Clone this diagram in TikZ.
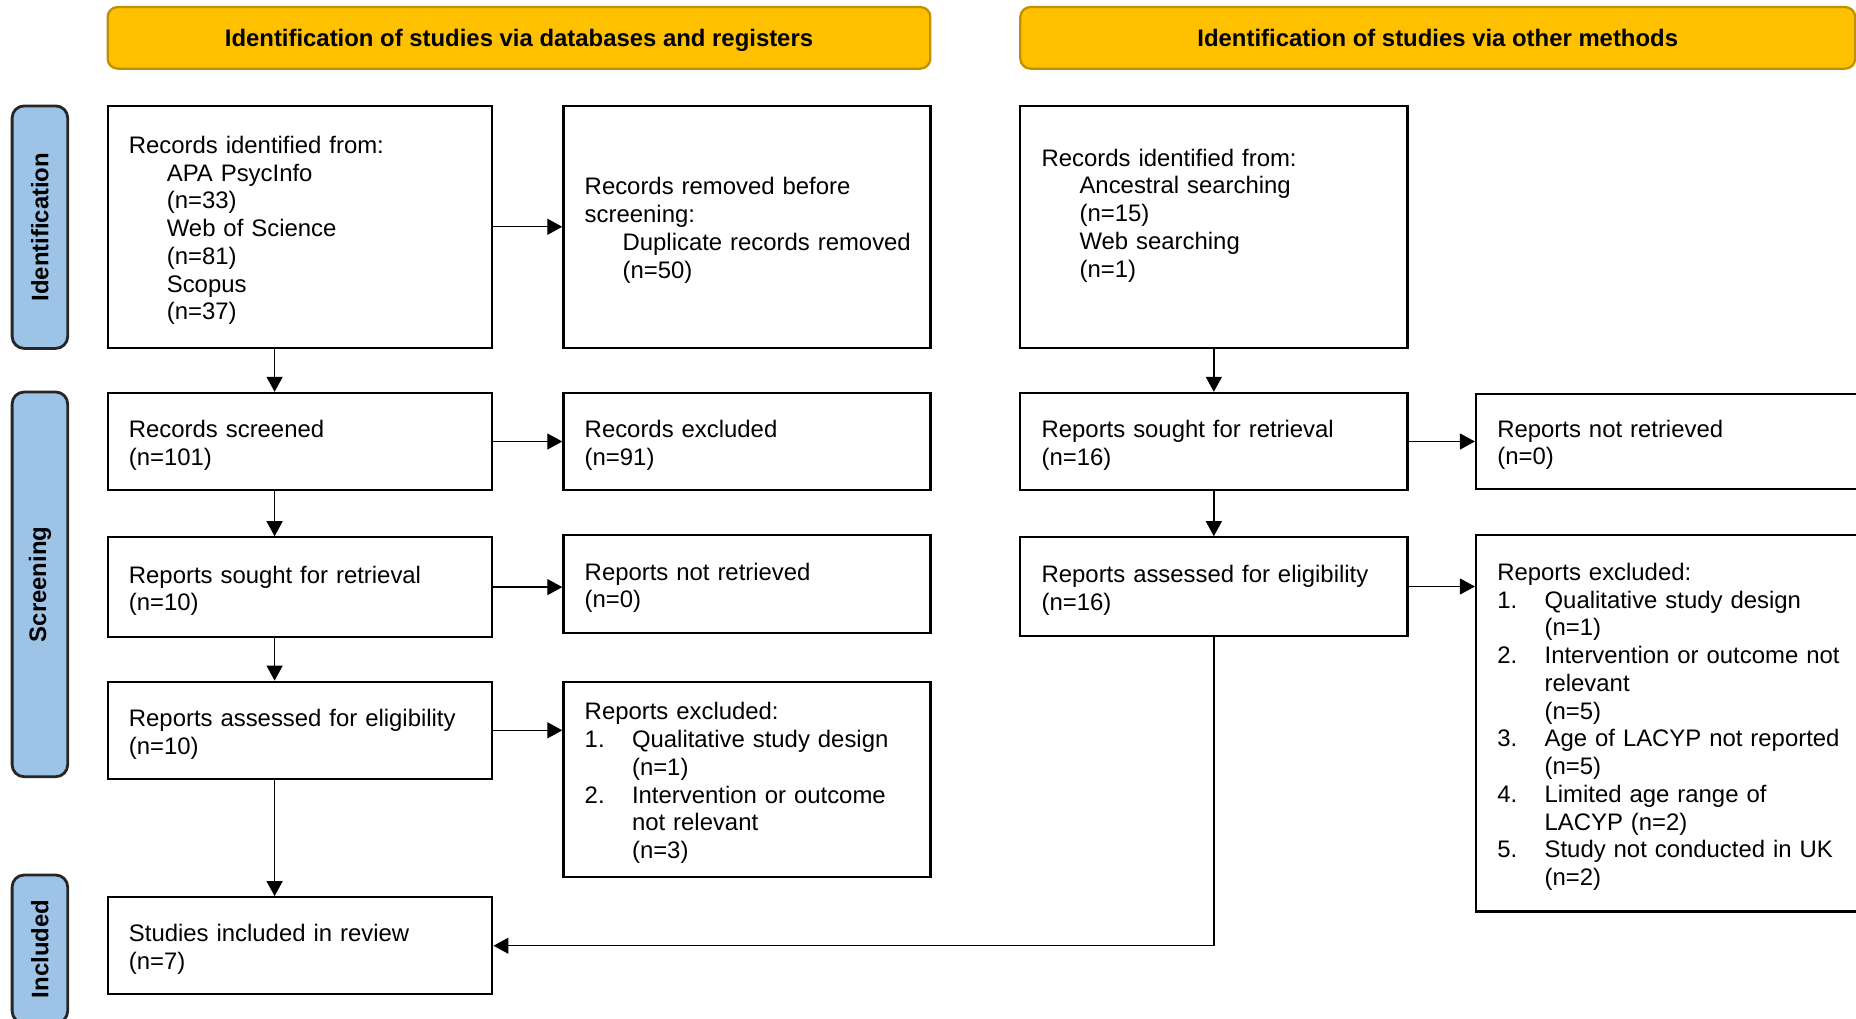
\documentclass[tikz,border=0pt]{standalone}
\usepackage{fontspec}
\setmainfont{Liberation Sans}
\usetikzlibrary{arrows.meta}
\newlength{\unitpx}
\setlength{\unitpx}{0.02cm}
\newcommand{\subind}{\hspace*{37.9\unitpx}}
\newcommand{\numind}{\hspace*{47.3\unitpx}}
\newcommand{\numitem}[1]{\makebox[47.3\unitpx][l]{#1}}
\definecolor{headfill}{HTML}{FFC000}
\definecolor{headline}{HTML}{BF9000}
\definecolor{sidefill}{HTML}{9DC3E6}
\definecolor{sideline}{HTML}{262626}

\begin{document}
\begin{tikzpicture}[x=0.02cm, y=-0.02cm,
    font=\fontsize{13.6}{15.8}\selectfont,
    box/.style = {draw, line width=1.3pt, anchor=north west, align=left, inner xsep=21.3\unitpx, inner ysep=0pt, execute at begin node=\rule{0pt}{14pt}},
    lcol/.style = {box, text width=342.1\unitpx},
    mcol/.style = {box, text width=324.4\unitpx},
    rcol/.style = {box, text width=344.4\unitpx},
    fcol/.style = {box, text width=362.4\unitpx},
    head/.style = {draw=headline, fill=headfill, line width=1.3pt, rounded corners=10\unitpx, anchor=north west, minimum height=61.6\unitpx, inner sep=0pt, text height=9.8pt, text depth=0.4pt, font=\fontsize{13.6}{15.8}\selectfont\bfseries},
    side/.style = {draw=sideline, fill=sidefill, line width=1.6pt, rounded corners=12\unitpx, anchor=north west, minimum width=55.6\unitpx, inner sep=0pt, font=\fontsize{13.6}{15.8}\selectfont\bfseries},
    arr/.style = {-{Triangle[length=0.3cm, width=0.32cm]}, line width=0.75pt}]
    \useasboundingbox (0,0) rectangle (1856,1018);
    \clip (0,0) rectangle (1856,1018);

    % headers
    \node[head, minimum width=822.7\unitpx] (hdb) at (106.5,5.9) {Identification of studies via databases and registers};
    \node[head, minimum width=834.8\unitpx] (hoth) at (1019.2,5.9) {Identification of studies via other methods};

    % phases
    \node[side, minimum height=242.5\unitpx] (sideid) at (10.7,104.5) {\rotatebox{90}{Identification}};
    \node[side, minimum height=384.7\unitpx] (sidescr) at (10.7,390.6) {\rotatebox{90}{Screening}};
    \node[side, minimum height=148\unitpx] (sideinc) at (10.7,873.6) {\rotatebox{90}{Included}};

    % databases and registers
    \node[lcol, minimum height=242.3\unitpx] (recid) at (106.5,104.5) {Records identified from:\\ \subind APA PsycInfo\\ \subind (n=33)\\ \subind Web of Science\\ \subind (n=81)\\ \subind Scopus\\ \subind (n=37)};
    \node[mcol, minimum height=242.3\unitpx] (recrem) at (562.3,104.5) {Records removed before\\ screening:\\ \subind\mbox{Duplicate records removed}\\ \subind (n=50)};
    \node[lcol, minimum height=97.1\unitpx] (recscr) at (106.5,391.8) {Records screened\\ (n=101)};
    \node[mcol, minimum height=97.1\unitpx] (recexc) at (562.3,391.8) {Records excluded\\ (n=91)};
    \node[lcol, minimum height=99.5\unitpx] (repsou) at (106.5,536.2) {Reports sought for retrieval\\ (n=10)};
    \node[mcol, minimum height=98.3\unitpx] (repnot) at (562.3,533.8) {Reports not retrieved\\ (n=0)};
    \node[lcol, minimum height=97.1\unitpx] (repass) at (106.5,680.6) {Reports assessed for eligibility\\ (n=10)};
    \node[mcol, minimum height=195.3\unitpx] (repexc) at (562.3,680.6) {Reports excluded:\\ \numitem{1.}Qualitative study design\\ \numind (n=1)\\ \numitem{2.}Intervention or outcome\\ \numind not relevant\\ \numind (n=3)};
    \node[lcol, minimum height=97\unitpx] (incl) at (106.5,896.1) {Studies included in review\\ (n=7)};

    % other methods
    \node[rcol, minimum height=242.3\unitpx] (othid) at (1019.2,104.5) {Records identified from:\\ \subind Ancestral searching\\ \subind (n=15)\\ \subind Web searching\\ \subind (n=1)\\ \rule[-4pt]{0pt}{4pt}};
    \node[rcol, minimum height=97.1\unitpx] (othsou) at (1019.2,391.8) {Reports sought for retrieval\\ (n=16)};
    \node[fcol, minimum height=95\unitpx] (othnot) at (1474.9,392.5) {Reports not retrieved\\ (n=0)};
    \node[rcol, minimum height=98.3\unitpx] (othass) at (1019.2,536.2) {Reports assessed for eligibility\\ (n=16)};
    \node[fcol, minimum height=376.5\unitpx] (othexc) at (1474.9,533.8) {Reports excluded:\\ \numitem{1.}Qualitative study design\\ \numind (n=1)\\ \numitem{2.}Intervention or outcome not\\ \numind relevant\\ \numind (n=5)\\ \numitem{3.}Age of LACYP not reported\\ \numind (n=5)\\ \numitem{4.}Limited age range of\\ \numind LACYP (n=2)\\ \numitem{5.}Study not conducted in UK\\ \numind (n=2)};

    % connectors
    \coordinate (spine) at (274.6,0);
    \draw[arr] (recid) -- (recrem);
    \draw[arr] (recid.south -| spine) -- (recscr.north -| spine);
    \draw[arr] (recscr) -- (recexc);
    \draw[arr] (recscr.south -| spine) -- (repsou.north -| spine);
    \draw[arr] (repsou.east) -- (repsou.east -| repnot.west);
    \draw[arr] (repsou.south -| spine) -- (repass.north -| spine);
    \draw[arr] (repass.east) -- (repass.east -| repexc.west);
    \draw[arr] (repass.south -| spine) -- (incl.north -| spine);
    \draw[arr] (othid) -- (othsou);
    \draw[arr] (othsou.east) -- (othsou.east -| othnot.west);
    \draw[arr] (othsou) -- (othass);
    \draw[arr] (othass.east) -- (othass.east -| othexc.west);
    \draw[arr] (othass.south) |- (incl.east);
\end{tikzpicture}
\end{document}
